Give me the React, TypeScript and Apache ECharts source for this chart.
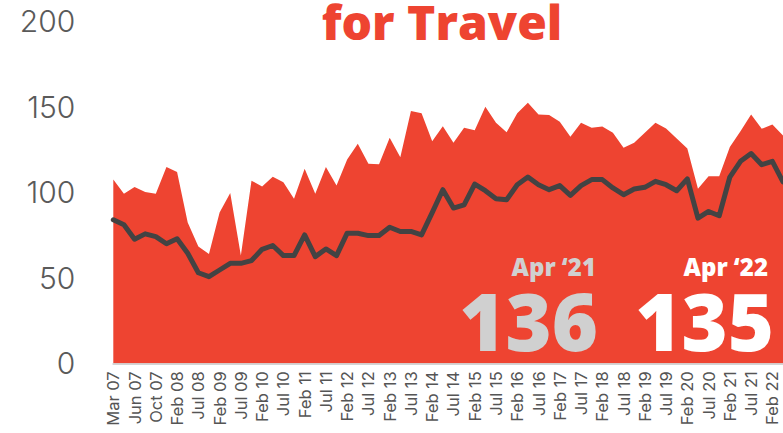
import React, { useEffect, useRef } from "react";
import * as echarts from "echarts";

// Tick labels on the x axis (one every second data point)
const tickLabels = [
  "Mar 07", "Jun 07", "Oct 07", "Feb 08", "Jul 08", "Feb 09", "Jul 09", "Feb 10",
  "Jul 10", "Feb 11", "Jul 11", "Feb 12", "Jul 12", "Feb 13", "Jul 13", "Feb 14",
  "Jul 14", "Feb 15", "Jul 15", "Feb 16", "Jul 16", "Feb 17", "Jul 17", "Feb 18",
  "Jul 18", "Feb 19", "Jul 19", "Feb 20", "Jul 20", "Feb 21", "Jul 21", "Feb 22",
];

// Red area series
const areaValues = [
  107.3, 99, 103, 100, 99, 114.7, 111.8, 82.2, 68.2, 63.9, 88.1, 99.5, 62.9, 106.7, 103.3, 108.9,
  105.7, 96.1, 113.7, 99, 114.7, 103.9, 119, 128.2, 116.6, 116.2, 131.7, 120.3, 147.3, 146, 129.7, 138.5,
  128.8, 137.6, 136.2, 149.9, 140.5, 135, 146, 152.2, 145.4, 145, 141.1, 132.3, 140.5, 137.6, 138.3, 134.6,
  125.9, 128.8, 134.6, 140.5, 137.2, 131.3, 125.4, 102, 109.2, 109.2, 126.4, 135.6, 145.4, 137, 139.5, 133,
];

// Dark line series
const lineValues = [
  83.8, 80.9, 72.5, 75.6, 74, 69.8, 72.7, 64.3, 52.9, 50.6, 54.5, 58.4, 58.4, 60, 66.6, 68.8,
  62.9, 62.9, 75, 62.3, 66.8, 62.9, 76, 76, 74.6, 74.6, 79.5, 77, 77, 75, 88, 101.4,
  90.7, 92.6, 104.7, 100.8, 96.1, 95.5, 104.3, 108.8, 104.3, 101.4, 103.8, 98.1, 103.8, 107.3, 107.3, 102.4,
  98.5, 101.8, 102.8, 106.3, 104.3, 100.8, 107.7, 84.8, 88.7, 86.2, 108.8, 118, 122.5, 116, 118, 106,
];

const yTicks = [0, 50, 100, 150, 200];

const titleText = "for Travel";
const callouts = [
  { label: "Apr ‘21", value: "136" },
  { label: "Apr ‘22", value: "135" },
];

const RED = "#ee4431";

export default function App() {
  const ref = useRef<HTMLDivElement>(null);

  useEffect(() => {
    if (!ref.current) return;
    const chart = echarts.init(ref.current, undefined, { renderer: "svg" });
    const n = areaValues.length;
    const option = {
      animation: false,
      backgroundColor: "#ffffff",
      grid: { left: 113.3, right: -6.3, top: 20.9, bottom: 69.7, containLabel: false },
      xAxis: {
        type: "value",
        min: 0,
        max: n - 1,
        interval: 2,
        axisLine: { show: true, lineStyle: { color: "#d4d4d4", width: 2 } },
        axisTick: { show: false },
        splitLine: { show: false },
        axisLabel: {
          rotate: 90,
          margin: 8,
          color: "#555555",
          fontFamily: "Inter",
          fontSize: 16.5,
          showMaxLabel: false,
          formatter: (v: number) => (v % 2 === 0 && tickLabels[v / 2] !== undefined ? tickLabels[v / 2] : ""),
        },
      },
      yAxis: {
        type: "value",
        min: yTicks[0],
        max: yTicks[yTicks.length - 1],
        interval: yTicks[1] - yTicks[0],
        axisLine: { show: false },
        axisTick: { show: false },
        splitLine: { show: false },
        axisLabel: {
          margin: 38,
          color: "#5a5a5a",
          fontFamily: "Inter",
          fontWeight: 300,
          fontSize: 30,
        },
      },
      series: [
        {
          type: "line",
          data: areaValues.map((v, i) => [i, v]),
          symbol: "none",
          lineStyle: { width: 0 },
          areaStyle: { color: RED, opacity: 1 },
          z: 2,
        },
        {
          type: "line",
          data: lineValues.map((v, i) => [i, v]),
          symbol: "none",
          lineStyle: { width: 5, color: "#434343", join: "round", cap: "round" },
          z: 3,
        },
      ],
      graphic: [
        {
          type: "text",
          x: 442,
          y: 21,
          z: 10,
          style: {
            text: titleText,
            fill: RED,
            font: "800 48px 'Open Sans'",
            lineHeight: 40,
            align: "center",
            verticalAlign: "middle",
          },
        },
        {
          type: "text",
          x: 596,
          y: 266,
          z: 10,
          style: { text: callouts[0].label, fill: "#d0d0d0", font: "800 24px 'Open Sans'", lineHeight: 20, align: "right", verticalAlign: "middle" },
        },
        {
          type: "text",
          x: 598,
          y: 320,
          z: 10,
          style: { text: callouts[0].value, fill: "#d0d0d0", font: "800 79px 'Open Sans'", lineHeight: 58, align: "right", verticalAlign: "middle" },
        },
        {
          type: "text",
          x: 768,
          y: 266,
          z: 10,
          style: { text: callouts[1].label, fill: "#ffffff", font: "800 24px 'Open Sans'", lineHeight: 20, align: "right", verticalAlign: "middle" },
        },
        {
          type: "text",
          x: 774,
          y: 320,
          z: 10,
          style: { text: callouts[1].value, fill: "#ffffff", font: "800 79px 'Open Sans'", lineHeight: 58, align: "right", verticalAlign: "middle" },
        },
      ],
    };
    chart.setOption(option as any);
    return () => chart.dispose();
  }, []);

  return (
    <div
      ref={ref}
      style={{ position: "absolute", left: 0, top: 0, width: 783, height: 433, overflow: "hidden" }}
    />
  );
}
